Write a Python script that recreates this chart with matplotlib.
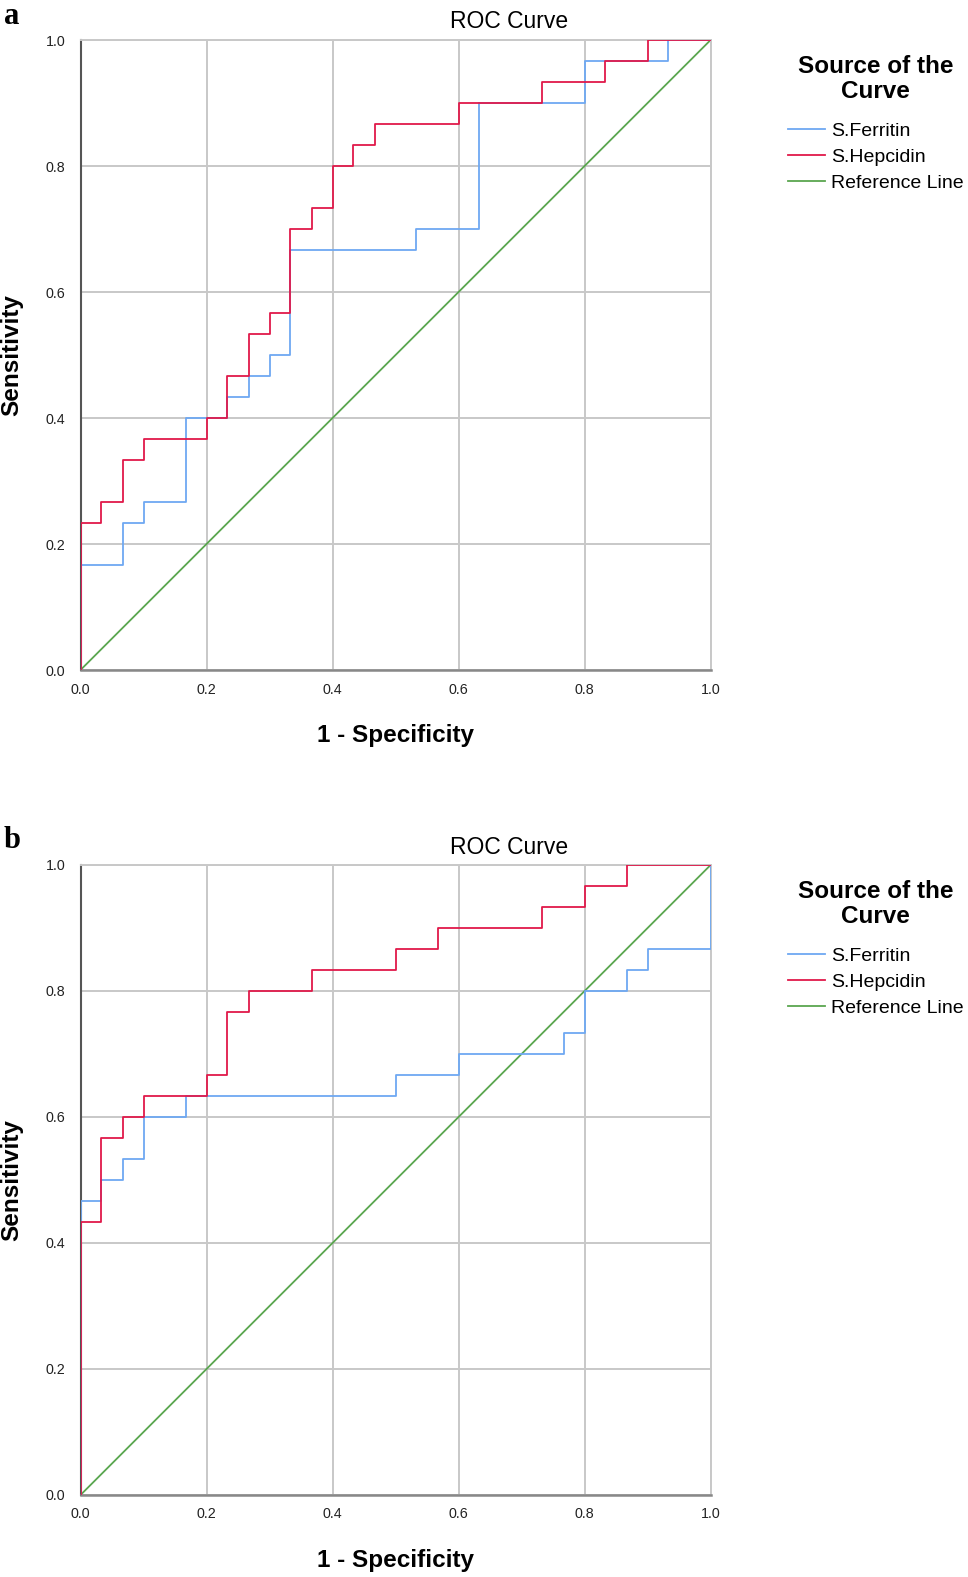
import matplotlib
matplotlib.use("Agg")
import matplotlib.pyplot as plt

plt.rcParams['font.family'] = ['Liberation Sans', 'DejaVu Sans']

# ROC corner points (1 - specificity, sensitivity)
a_ferritin_fpr = [0.0, 0.0, 0.067, 0.1, 0.167, 0.233, 0.267, 0.3, 0.333, 0.533, 0.633, 0.8, 0.933, 1.0]
a_ferritin_tpr = [0.0, 0.167, 0.233, 0.267, 0.4, 0.433, 0.467, 0.5, 0.667, 0.7, 0.9, 0.967, 1.0, 1.0]
a_hepcidin_fpr = [0.0, 0.0, 0.033, 0.067, 0.1, 0.2, 0.233, 0.267, 0.3, 0.333, 0.367, 0.4, 0.433, 0.467, 0.6, 0.733, 0.833, 0.9, 1.0]
a_hepcidin_tpr = [0.0, 0.233, 0.267, 0.333, 0.367, 0.4, 0.467, 0.533, 0.567, 0.7, 0.733, 0.8, 0.833, 0.867, 0.9, 0.933, 0.967, 1.0, 1.0]

b_ferritin_fpr = [0.0, 0.0, 0.033, 0.067, 0.1, 0.167, 0.5, 0.6, 0.767, 0.8, 0.867, 0.9, 1.0, 1.0]
b_ferritin_tpr = [0.0, 0.467, 0.5, 0.533, 0.6, 0.633, 0.667, 0.7, 0.733, 0.8, 0.833, 0.867, 0.867, 1.0]
b_hepcidin_fpr = [0.0, 0.0, 0.033, 0.067, 0.1, 0.2, 0.233, 0.267, 0.367, 0.5, 0.567, 0.733, 0.8, 0.867, 1.0]
b_hepcidin_tpr = [0.0, 0.433, 0.567, 0.6, 0.633, 0.667, 0.767, 0.8, 0.833, 0.867, 0.9, 0.933, 0.967, 1.0, 1.0]

ref_line = [0.0, 1.0]
ticks = [0.0, 0.2, 0.4, 0.6, 0.8, 1.0]
tick_labels = ['0.0', '0.2', '0.4', '0.6', '0.8', '1.0']
series_names = ['S.Ferritin', 'S.Hepcidin', 'Reference Line']
panel_letters = ['a', 'b']

C_BLUE = '#6ea8f2'
C_RED = '#e0194a'
C_GREEN = '#5aa64f'
C_GRID = '#c8c8c8'

W, H = 968, 1577
fig = plt.figure(figsize=(W / 100, H / 100), dpi=100)

panels = [
    (a_ferritin_fpr, a_ferritin_tpr, a_hepcidin_fpr, a_hepcidin_tpr, 40),
    (b_ferritin_fpr, b_ferritin_tpr, b_hepcidin_fpr, b_hepcidin_tpr, 865),
]

left_px, right_px = 80.5, 710.6
size_px = 630

for i, (ff, ft, hf, ht, top_px) in enumerate(panels):
    ax = fig.add_axes([left_px / W, 1 - (top_px + size_px) / H,
                       (right_px - left_px) / W, size_px / H])
    ax.set_xlim(0, 1)
    ax.set_ylim(0, 1)
    ax.set_xticks(ticks)
    ax.set_yticks(ticks)
    ax.set_xticklabels(tick_labels)
    ax.set_yticklabels(tick_labels)
    ax.tick_params(length=0, labelsize=10.3, colors='#222222')
    ax.tick_params(axis='y', pad=11)
    ax.tick_params(axis='x', pad=9)
    ax.grid(True, color=C_GRID, linewidth=1.4)
    ax.set_axisbelow(True)
    for s in ['top', 'right']:
        ax.spines[s].set_color(C_GRID)
        ax.spines[s].set_linewidth(1.4)
    ax.spines['left'].set_color('#555555')
    ax.spines['left'].set_linewidth(1.5)
    ax.spines['bottom'].set_color('#888888')
    ax.spines['bottom'].set_linewidth(1.8)

    l1, = ax.plot(ff, ft, drawstyle='steps-post', color=C_BLUE, lw=1.3, label=series_names[0], zorder=3)
    l2, = ax.plot(hf, ht, drawstyle='steps-post', color=C_RED, lw=1.3, label=series_names[1], zorder=4)
    l3, = ax.plot(ref_line, ref_line, color=C_GREEN, lw=1.3, label=series_names[2], zorder=2)

    ax.text(0.5, -(735 - 670) / size_px, '1 - Specificity', transform=ax.transAxes,
            ha='center', va='center', fontsize=17.5, fontweight='bold')
    ax.text((12 - left_px) / (right_px - left_px), 0.5, 'Sensitivity', transform=ax.transAxes,
            ha='center', va='center', rotation=90, fontsize=17.5, fontweight='bold')

    fig.text(509 / W, 1 - (top_px - 18) / H, 'ROC Curve', ha='center', va='center', fontsize=16.5)
    fig.text(12 / W, 1 - (top_px - 24) / H, panel_letters[i], ha='center', va='center',
             fontsize=22, fontweight='bold', family='Liberation Serif')

    leg = ax.legend(handles=[l1, l2, l3], loc='upper left',
                    bbox_to_anchor=(788 / W, 1 - (top_px + 15) / H),
                    bbox_transform=fig.transFigure, frameon=False,
                    title='Source of the\nCurve', fontsize=14,
                    title_fontproperties={'weight': 'bold', 'size': 17.5},
                    borderpad=0, borderaxespad=0, handlelength=1.9,
                    handletextpad=0.3, labelspacing=0.43)
    leg.get_title().set_multialignment('center')
    leg.get_title().set_linespacing(1.1)
    leg._legend_box.sep = 14

fig.savefig('out.png', dpi=100)
